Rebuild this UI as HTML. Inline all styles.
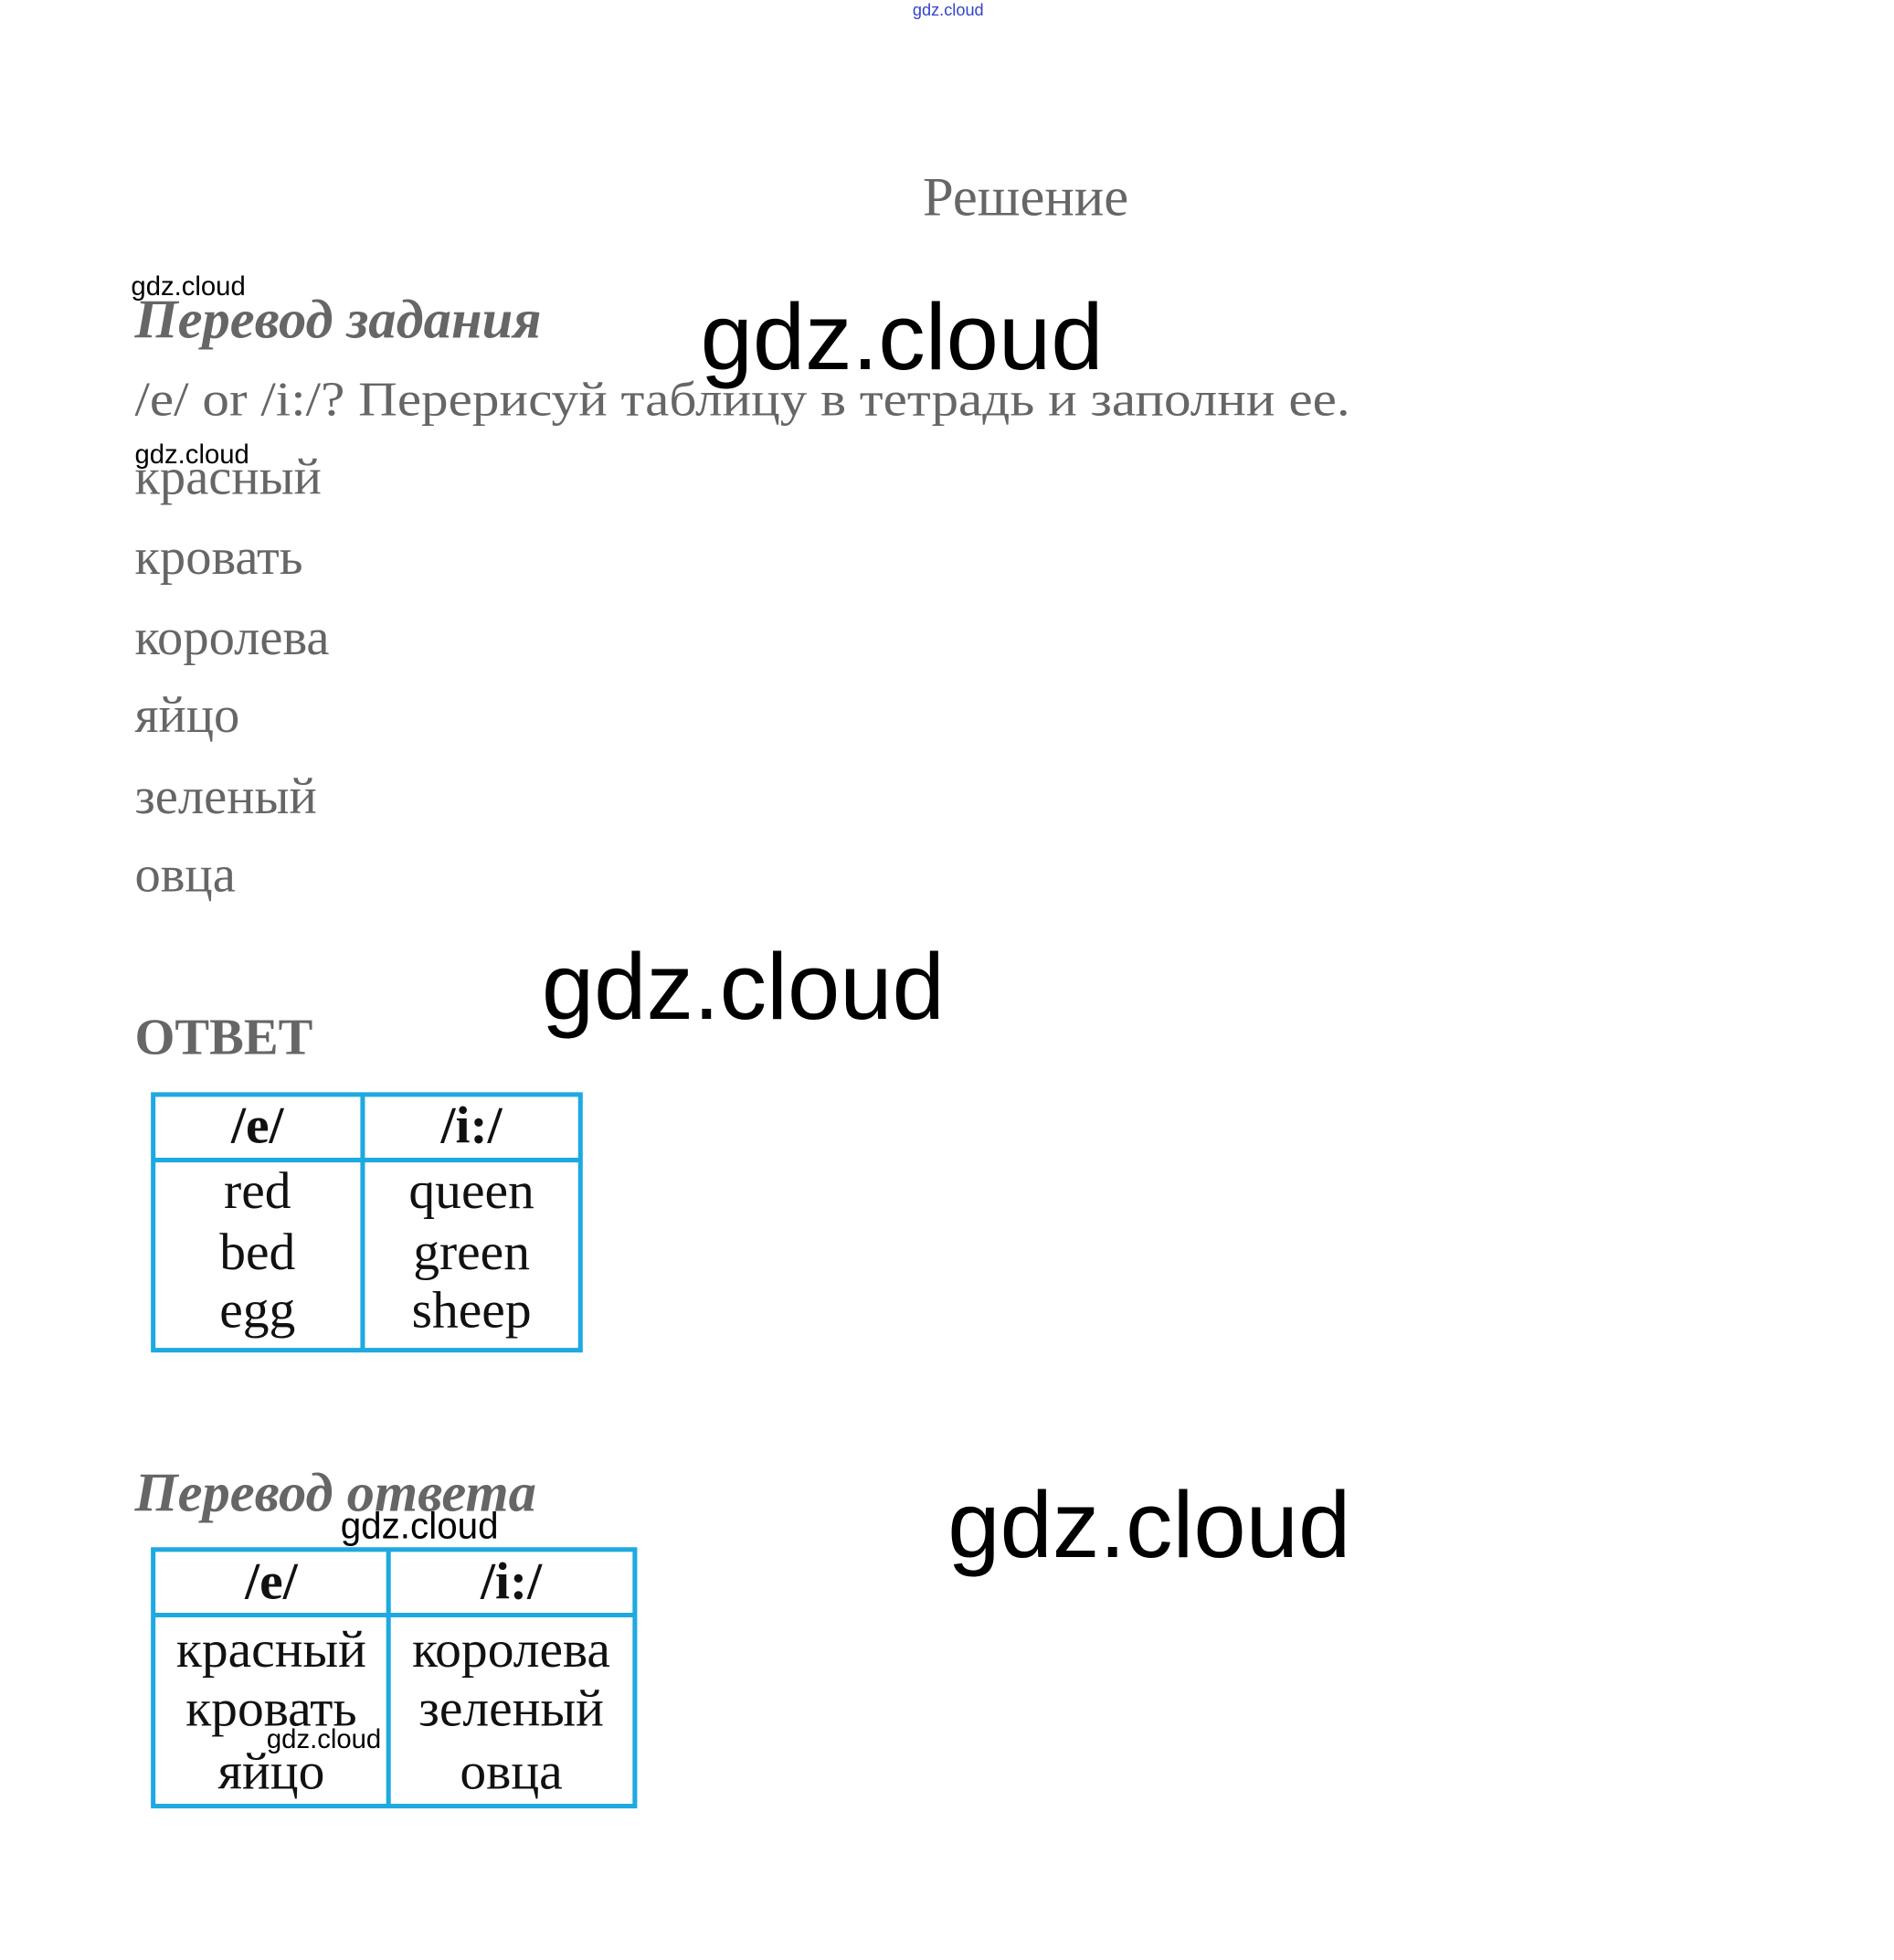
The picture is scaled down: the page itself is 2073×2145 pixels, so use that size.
<!DOCTYPE html>
<html><head><meta charset="utf-8"><style>
html,body{margin:0;padding:0;background:#fff;width:2073px;height:2145px;overflow:hidden}
svg{display:block}
.s{font-family:"Liberation Serif","DejaVu Serif",serif}
.w{font-family:"Liberation Sans","DejaVu Sans",sans-serif}
</style></head><body>
<svg width="2073" height="2145" viewBox="0 0 2073 2145" xmlns="http://www.w3.org/2000/svg">
<rect width="2073" height="2145" fill="#fff"/>
<g transform="scale(1.01)">
<text x="989" y="17" class="w" font-size="18" fill="#3344cc">gdz.cloud</text>
<text x="1000" y="233" class="s" font-size="60" fill="#666">Решение</text>
<text x="142" y="320" class="w" font-size="29" fill="#000">gdz.cloud</text>
<text x="146" y="366" class="s" font-size="60" font-weight="bold" font-style="italic" fill="#666">Перевод задания</text>
<text x="759" y="400" class="w" font-size="102" fill="#000">gdz.cloud</text>
<text x="146" y="450" class="s" font-size="52" fill="#666" textLength="1317" lengthAdjust="spacingAndGlyphs">/e/ or /i:/? Перерисуй таблицу в тетрадь и заполни ее.</text>
<text x="146" y="502" class="w" font-size="29" fill="#000">gdz.cloud</text>
<g class="s" font-size="56" fill="#666">
<text x="146" y="535">красный</text>
<text x="146" y="622">кровать</text>
<text x="146" y="709">королева</text>
<text x="146" y="793">яйцо</text>
<text x="146" y="881">зеленый</text>
<text x="146" y="966">овца</text>
</g>
<text x="587" y="1104" class="w" font-size="102" fill="#000">gdz.cloud</text>
<text x="146" y="1142" class="s" font-size="56" font-weight="bold" fill="#666">ОТВЕТ</text>
<g fill="none" stroke="#1ea9e1" stroke-width="5">
<rect x="166" y="1186" width="463" height="277"/>
<line x1="393" y1="1186" x2="393" y2="1463"/>
<line x1="166" y1="1257" x2="629" y2="1257"/>
</g>
<g class="s" font-size="57" fill="#111" text-anchor="middle">
<text x="279" y="1238" font-weight="bold">/e/</text>
<text x="511" y="1238" font-weight="bold">/i:/</text>
<text x="279" y="1309">red</text>
<text x="279" y="1375">bed</text>
<text x="279" y="1438">egg</text>
<text x="511" y="1309">queen</text>
<text x="511" y="1375">green</text>
<text x="511" y="1438">sheep</text>
</g>
<text x="146" y="1637" class="s" font-size="60" font-weight="bold" font-style="italic" fill="#666">Перевод ответа</text>
<text x="369" y="1667" class="w" font-size="40" fill="#000">gdz.cloud</text>
<text x="1027" y="1687" class="w" font-size="102" fill="#000">gdz.cloud</text>
<g fill="none" stroke="#1ea9e1" stroke-width="5">
<rect x="166" y="1679" width="522" height="278"/>
<line x1="421" y1="1679" x2="421" y2="1957"/>
<line x1="166" y1="1750" x2="688" y2="1750"/>
</g>
<g class="s" font-size="57" fill="#111" text-anchor="middle">
<text x="294" y="1732" font-weight="bold">/e/</text>
<text x="554" y="1732" font-weight="bold">/i:/</text>
<text x="294" y="1806">красный</text>
<text x="294" y="1870">кровать</text>
<text x="294" y="1938">яйцо</text>
<text x="554" y="1806">королева</text>
<text x="554" y="1870">зеленый</text>
<text x="554" y="1938">овца</text>
</g>
<text x="289" y="1894" class="w" font-size="29" fill="#000">gdz.cloud</text>
</g>
</svg>
</body></html>
